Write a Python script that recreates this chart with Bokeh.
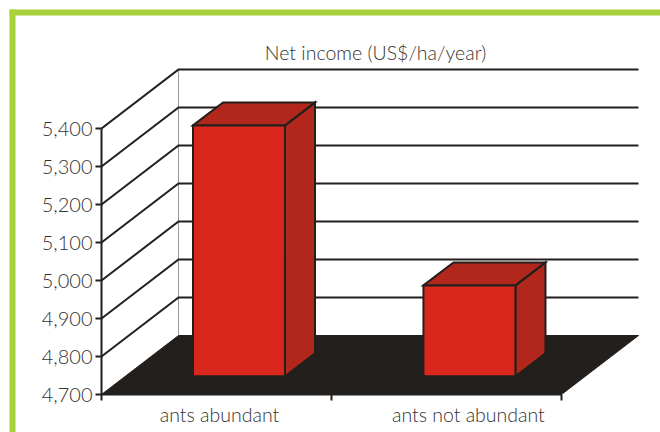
from bokeh.embed import file_html
from bokeh.models import FixedTicker, Label, LinearAxis, NumeralTickFormatter, Range1d
from bokeh.plotting import figure
from bokeh.resources import INLINE
from bokeh.core.properties import value

# Chart data
categories = ["ants abundant", "ants not abundant"]
net_income = [5360, 4939]
y_ticks = [4700, 4800, 4900, 5000, 5100, 5200, 5300, 5400]
chart_title = "Net income (US$/ha/year)"

# Layout of the oblique 3-D box
W, H = 660, 432
SLOT_PX = 230          # width of one category slot
PX_PER_UNIT = 0.38     # vertical pixels per US$
ORIGIN_X, ORIGIN_Y = 101, 394
WALL_DX, WALL_DY = 77, 59
BAR_CENTERS = [0.494, 1.496]
BAR_WIDTH = 0.40
DEPTH_FRONT, DEPTH_BACK = 0.31, 0.70
LABEL_X = [0.513, 1.595]

DARK = "#231f1c"
FRONT = "#d9271c"
SHADE = "#b2271b"
GREEN = "#a9d13b"
TEXT = "#333333"
FONT = "Lato Light"


def project(x, v, depth):
    """Oblique projection of (slot position, income, depth) on the plane of the axes."""
    return x + depth * WALL_DX / SLOT_PX, v + depth * WALL_DY / PX_PER_UNIT


def from_px(px, py):
    """Convert page pixels to the data coordinates of the frame."""
    return (px - ORIGIN_X) / SLOT_PX, y_ticks[0] + (ORIGIN_Y - py) / PX_PER_UNIT


x0, y1 = from_px(0, 0)
x1, y0 = from_px(W, H)

p = figure(
    width=W, height=H, output_backend="svg", toolbar_location=None,
    x_range=Range1d(x0, x1), y_range=Range1d(y0, y1),
    x_axis_type=None, y_axis_type=None, min_border=0,
)
p.outline_line_color = None
p.grid.visible = False
p.background_fill_color = "white"
p.border_fill_color = "white"

# Green page frame along the top and left
fx0, fy0 = from_px(9, 15)
fx1, fy1 = from_px(W, 9)
p.quad(left=[fx0], right=[fx1], bottom=[fy0], top=[fy1], fill_color=GREEN, line_color=None)
fx0, fy0 = from_px(9, H)
fx1, fy1 = from_px(15, 9)
p.quad(left=[fx0], right=[fx1], bottom=[fy0], top=[fy1], fill_color=GREEN, line_color=None)

top = y_ticks[-1]
base = y_ticks[0]
n = len(categories)

# Back wall edge, then the grid lines across the side and back walls
bx, by0 = project(0, base, 1)
_, by1 = project(0, top, 1)
p.line([bx, bx], [by0, by1], line_color="#9a9a9a", line_width=1)

for t in y_ticks[1:]:
    sx, sy = project(0, t, 0)
    mx, my = project(0, t, 1)
    ex, ey = project(n, t, 1)
    p.line([sx, mx, ex], [sy, my, ey], line_color=DARK, line_width=2.2 if t == top else 2,
           line_join="miter")

# Floor
corners = [project(0, base, 0), project(0, base, 1), project(n, base, 1), project(n, base, 0)]
p.patch([c[0] for c in corners], [c[1] for c in corners], fill_color=DARK, line_color=DARK, line_width=1)

# Bars: side and top faces behind the front face
for c, v in zip(BAR_CENTERS, net_income):
    l, r = c - BAR_WIDTH / 2, c + BAR_WIDTH / 2
    side = [project(r, base, DEPTH_FRONT), project(r, base, DEPTH_BACK),
            project(r, v, DEPTH_BACK), project(r, v, DEPTH_FRONT)]
    cap = [project(l, v, DEPTH_FRONT), project(l, v, DEPTH_BACK),
           project(r, v, DEPTH_BACK), project(r, v, DEPTH_FRONT)]
    front = [project(l, base, DEPTH_FRONT), project(r, base, DEPTH_FRONT),
             project(r, v, DEPTH_FRONT), project(l, v, DEPTH_FRONT)]
    for face, color in ((side, SHADE), (cap, SHADE), (front, FRONT)):
        xs = [q[0] for q in face] + [face[0][0]]
        ys = [q[1] for q in face] + [face[0][1]]
        p.patch(xs, ys, fill_color=color, line_color=DARK, line_width=2, line_join="miter")

# Axes, set on the front edge of the box
yaxis = LinearAxis(
    fixed_location=0, ticker=FixedTicker(ticks=y_ticks),
    formatter=NumeralTickFormatter(format="0,0"), bounds=(base, top),
    axis_line_color=DARK, axis_line_width=2,
    major_tick_line_color=DARK, major_tick_line_width=2,
    major_tick_in=0, major_tick_out=6, minor_tick_line_color=None,
    major_label_standoff=3, major_label_text_font=FONT,
    major_label_text_font_size="20px", major_label_text_color=TEXT,
)
p.add_layout(yaxis, "left")

xaxis = LinearAxis(
    fixed_location=base, ticker=FixedTicker(ticks=list(range(n + 1))),
    axis_line_color=DARK, axis_line_width=2, bounds=(0, n),
    major_tick_line_color=DARK, major_tick_line_width=2,
    major_tick_in=0, major_tick_out=6, minor_tick_line_color=None,
    major_label_text_color=None, major_label_text_font_size="1px",
)
p.add_layout(xaxis, "below")

# Category labels and heading
p.text(x=LABEL_X, y=[base, base], text=categories, y_offset=20,
       text_align="center", text_baseline="alphabetic",
       text_font=value(FONT), text_font_size="19.5px", text_color=TEXT)

tx, ty = from_px(375, 52)
p.add_layout(Label(x=tx, y=ty, text=chart_title, text_align="center", text_baseline="alphabetic",
                   text_font=FONT, text_font_size="19.5px", text_color=TEXT))

open("out.html", "w").write(file_html(p, INLINE))
